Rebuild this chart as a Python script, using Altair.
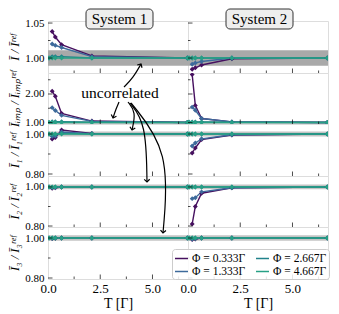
import math
import altair as alt
import pandas as pd

# ---------------- data ----------------
T_VALUES = [0.05, 0.2, 0.35, 0.65, 2.1, 6.667]
PHI_LABELS = ["Φ = 0.333Γ", "Φ = 1.333Γ", "Φ = 2.667Γ", "Φ = 4.667Γ"]
PHI_COLORS = ["#46105f", "#3d6a9b", "#21828b", "#27a085"]

N = None
SYS1 = {
    "I": [[N, 1.038, 1.030, 1.019, 1.003, 1.000],
          [N, 1.020, 1.018, 1.015, 1.002, 1.000],
          [1.000, 1.002, 1.002, 1.002, 1.000, 1.000],
          [1.000, 1.000, 1.000, 1.000, 1.000, 1.000]],
    "Iimp": [[N, 2.10, 1.92, 1.32, 1.05, 1.00],
             [N, 1.52, 1.42, 1.25, 1.04, 1.00],
             [1.00, 1.03, 1.03, 1.03, 1.01, 1.00],
             [1.00, 1.00, 1.00, 1.00, 1.00, 1.00]],
    "I1": [[N, 0.975, 0.982, 1.020, 1.003, 1.000],
           [N, 0.988, 0.990, 1.010, 1.002, 1.000],
           [1.000, 0.998, 0.999, 1.003, 1.000, 1.000],
           [1.000, 1.000, 1.000, 1.000, 1.000, 1.000]],
    "I2": [[N, 0.993, 0.996, 1.000, 1.000, 1.000],
           [N, 0.997, 0.998, 1.000, 1.000, 1.000],
           [1.000, 0.999, 1.000, 1.000, 1.000, 1.000],
           [1.000, 1.000, 1.000, 1.000, 1.000, 1.000]],
    "I3": [[N, 0.997, 0.999, 1.000, 1.000, 1.000],
           [N, 0.999, 1.000, 1.000, 1.000, 1.000],
           [1.000, 1.000, 1.000, 1.000, 1.000, 1.000],
           [1.000, 1.000, 1.000, 1.000, 1.000, 1.000]],
}
SYS2 = {
    "I": [[N, 0.984, 0.986, 0.990, 0.999, 1.000],
          [N, 0.991, 0.993, 0.995, 1.000, 1.000],
          [1.000, 1.000, 1.000, 1.000, 1.000, 1.000],
          [1.000, 1.000, 1.000, 1.000, 1.000, 1.000]],
    "Iimp": [[N, 2.68, 1.60, 1.14, 1.02, 1.00],
             [N, 1.54, 1.43, 1.14, 1.02, 1.00],
             [1.02, 1.02, 1.02, 1.02, 1.01, 1.00],
             [1.00, 1.00, 1.00, 1.00, 1.00, 1.00]],
    "I1": [[N, 0.905, 0.930, 0.972, 0.995, 1.000],
           [N, 0.940, 0.955, 0.976, 0.996, 1.000],
           [1.000, 1.000, 1.000, 1.000, 1.000, 1.000],
           [1.000, 1.000, 1.000, 1.000, 1.000, 1.000]],
    "I2": [[N, 0.810, 0.900, 0.968, 0.995, 1.000],
           [N, 0.940, 0.945, 0.975, 0.996, 1.000],
           [1.000, 1.000, 1.000, 1.000, 1.000, 1.000],
           [1.000, 1.000, 1.000, 1.000, 1.000, 1.000]],
    "I3": [[N, 0.992, 0.995, 1.000, 1.000, 1.000],
           [N, 0.995, 0.997, 1.000, 1.000, 1.000],
           [1.000, 1.000, 1.000, 1.000, 1.000, 1.000],
           [1.000, 1.000, 1.000, 1.000, 1.000, 1.000]],
}
SYSTEMS = [SYS1, SYS2]
SYSTEM_TITLES = ["System 1", "System 2"]

ROWS = ["I", "Iimp", "I1", "I2", "I3"]
Y_TITLES = ["Ī / Īʳᵉᶠ", "Īᵢₘₚ / Īᵢₘₚʳᵉᶠ", "Ī₁ / Ī₁ʳᵉᶠ", "Ī₂ / Ī₂ʳᵉᶠ", "Ī₃ / Ī₃ʳᵉᶠ"]
Y_DOMAINS = [[0.9786, 1.0529], [0.947, 2.737], [0.79, 1.05], [0.795, 1.056], [0.795, 1.055]]
Y_MAJOR = [[1.00, 1.05], [1.0, 2.0], [0.8, 1.0], [0.8, 1.0], [0.8, 1.0]]
Y_MINOR = [[1.025], [1.5, 2.5], [0.9], [0.9], [0.9]]
BANDS = [[0.989, 1.011], [0.965, 1.035], [0.988, 1.012], [0.988, 1.012], [0.986, 1.014]]
BAND_COLORS = ["#a9a9a9", "#8f8f8f", "#c4c4c4", "#c4c4c4", "#c4c4c4"]

X_DOMAIN = [0, 6.7]
X_LABELS = [0.0, 2.5, 5.0]
X_TICKS_MAJOR = [2.5, 5.0]
X_TICKS_MINOR = [1.25, 3.75, 6.25]

# ---------------- layout constants ----------------
W = 140
ROW_H = [52, 51, 52, 51, 52]
FONT = "Liberation Serif"

# annotation arrows (absolute pixel control points of the reference figure)
ARROWS = [
    [(124, 86), (133, 77), (141, 63)],
    [(119, 101), (116, 108), (113, 117)],
    [(128, 101), (136, 111), (132, 129)],
    [(130, 102), (146, 122), (147, 181)],
    [(131, 102), (170, 150), (163, 232)],
]
PANEL_ORIGIN = (188, 226)  # row 5, system 2 plot origin in reference pixels

LEGEND = alt.Legend(
    orient="none", legendX=124, legendY=228, columns=2, title=None,
    symbolType="stroke", symbolStrokeWidth=1.5, symbolSize=170,
    labelFont=FONT, labelFontSize=11.5, labelColor="black", labelOffset=3,
    fillColor="rgba(255,255,255,0.85)", strokeColor="#cccccc", cornerRadius=3,
    padding=2, rowPadding=0, columnPadding=6,
)


def encs(r, sys_i, yfield="v", xfield="T"):
    last = r == len(ROWS) - 1
    if last:
        xaxis = alt.Axis(values=X_LABELS, format=".1f", title="T [Γ]", tickSize=0,
                         domain=False, grid=False, labelPadding=3, labelFlush=False,
                         labelOverlap=False, labelFont=FONT, labelFontSize=13,
                         labelColor="black", titleFont=FONT, titleFontSize=14,
                         titleFontWeight="normal", titleColor="black", titlePadding=1)
    else:
        xaxis = None
    if sys_i == 0:
        yaxis = alt.Axis(values=Y_MAJOR[r], format=".2f", title=Y_TITLES[r], tickSize=0,
                         domain=False, grid=False, labelPadding=4, labelFont=FONT,
                         labelFontSize=11, labelColor="black", titleFont=FONT,
                         titleFontSize=12.5, titleFontStyle="italic", titleFontWeight="normal",
                         titleColor="black", titlePadding=3)
    else:
        yaxis = None
    x = alt.X(f"{xfield}:Q", scale=alt.Scale(domain=X_DOMAIN, nice=False, zero=False), axis=xaxis)
    y = alt.Y(f"{yfield}:Q", scale=alt.Scale(domain=Y_DOMAINS[r], nice=False, zero=False), axis=yaxis)
    return x, y


def color_enc():
    return alt.Color("phi:N", scale=alt.Scale(domain=PHI_LABELS, range=PHI_COLORS),
                     legend=LEGEND)


def panel(r, sys_i):
    key = ROWS[r]
    H = ROW_H[r]
    recs = []
    for si, series in enumerate(SYSTEMS[sys_i][key]):
        for t, v in zip(T_VALUES, series):
            if v is not None:
                recs.append({"T": t, "v": v, "phi": PHI_LABELS[si], "ord": si})
    df = pd.DataFrame(recs)
    x, y = encs(r, sys_i)

    band = alt.Chart(pd.DataFrame({"lo": [BANDS[r][0]], "hi": [BANDS[r][1]]})).mark_rect(
        color=BAND_COLORS[r]).encode(
        x=alt.value(0), x2=alt.value(W), y=encs(r, sys_i, yfield="lo")[1], y2="hi:Q")

    lines = alt.Chart(df).mark_line(clip=True, strokeWidth=1.4).encode(
        x=x, y=y, color=color_enc(), order="T:Q")
    pts = alt.Chart(df).mark_point(shape="diamond", filled=True, size=24, opacity=1,
                                   clip=True).encode(x=x, y=y, color=color_enc())

    ymaj = alt.Chart(pd.DataFrame({"v": Y_MAJOR[r]})).mark_tick(
        color="black", thickness=1, size=4.5).encode(y=y, x=alt.value(2.25))
    ymin = alt.Chart(pd.DataFrame({"v": Y_MINOR[r]})).mark_tick(
        color="black", thickness=1, size=2.5).encode(y=y, x=alt.value(1.25))
    xmaj = alt.Chart(pd.DataFrame({"T": X_TICKS_MAJOR})).mark_tick(
        color="black", thickness=1, size=4.5).encode(x=x, y=alt.value(H - 2.25))
    xmin = alt.Chart(pd.DataFrame({"T": X_TICKS_MINOR})).mark_tick(
        color="black", thickness=1, size=2.5).encode(x=x, y=alt.value(H - 1.25))

    layers = [band, lines, pts, ymaj, ymin, xmaj, xmin]

    if r == 0:
        box = alt.Chart(pd.DataFrame({"s": [SYSTEM_TITLES[sys_i]]})).mark_rect(
            fill="#eeeeee", stroke="#333333", strokeWidth=1, cornerRadius=4).encode(
            x=alt.value(38), x2=alt.value(105), y=alt.value(-12), y2=alt.value(8))
        txt = alt.Chart(pd.DataFrame({"s": [SYSTEM_TITLES[sys_i]]})).mark_text(
            font=FONT, fontSize=15, color="black", baseline="middle", align="center").encode(
            text="s:N", x=alt.value(71.5), y=alt.value(-2))
        layers += [box, txt]

    if r == len(ROWS) - 1 and sys_i == 1:
        ymin_d, ymax_d = Y_DOMAINS[r]
        ox, oy = PANEL_ORIGIN

        def to_data(px, py):
            tx = X_DOMAIN[0] + (px - ox) / W * (X_DOMAIN[1] - X_DOMAIN[0])
            vy = ymax_d - (py - oy) / H * (ymax_d - ymin_d)
            return tx, vy

        arecs, heads = [], []
        for ai, pts_ in enumerate(ARROWS):
            for k, (px, py) in enumerate(pts_):
                tx, vy = to_data(px, py)
                arecs.append({"T": tx, "v": vy, "a": ai, "k": k})
            (x1, y1), (x2, y2) = pts_[-2], pts_[-1]
            ang = math.degrees(math.atan2(-(x2 - x1), (y2 - y1))) % 360
            tx, vy = to_data(x2, y2)
            heads.append({"T": tx, "v": vy, "ang": ang})
        adf = pd.DataFrame(arecs)
        hdf = pd.DataFrame(heads)
        arrows = alt.Chart(adf).mark_line(color="black", strokeWidth=1.2,
                                          interpolate="basis").encode(
            x=x, y=y, detail="a:N", order="k:Q")
        arrowheads = alt.Chart(hdf).mark_point(
            shape="M-1,-1L0,0L1,-1", filled=False, color="black", strokeWidth=1.2,
            size=30, opacity=1).encode(x=x, y=y, angle=alt.Angle("ang:Q", scale=None))
        label = alt.Chart(pd.DataFrame({"s": ["uncorrelated"]})).mark_text(
            font=FONT, fontSize=15.5, color="black", baseline="middle", align="center").encode(
            text="s:N", x=alt.value(120 - ox), y=alt.value(92 - oy))
        layers += [arrows, arrowheads, label]

    return alt.layer(*layers).properties(width=W, height=H)


panels = []
for r in range(len(ROWS)):
    panels.append(panel(r, 0))
    panels.append(panel(r, 1))

chart = alt.concat(*panels, columns=2, spacing=0, bounds="flush").properties(
    padding={"left": 0, "top": 0, "right": 0, "bottom": 0}
).configure_view(
    stroke="black", strokeWidth=1
).configure(background="white")

chart.save("out.html", embed_options={"renderer": "svg", "actions": False})
